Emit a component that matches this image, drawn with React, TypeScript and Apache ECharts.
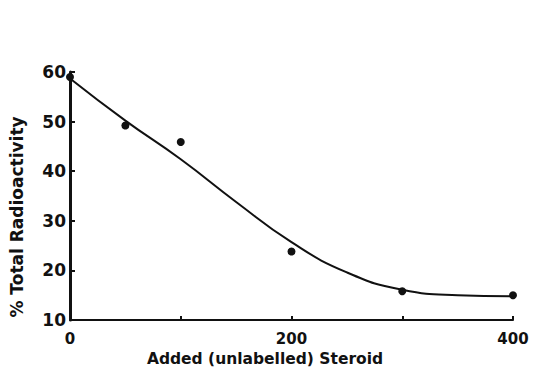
import React, { useEffect, useRef } from "react";
import * as echarts from "echarts";

const pointX = [0, 50, 100, 200, 300, 400];
const pointY = [59.0, 49.2, 45.9, 23.8, 15.8, 15.0];

const curveX = [0, 50, 100, 150, 200, 250, 300, 350, 400];
const curveY = [58.7, 50.2, 42.4, 33.8, 25.7, 19.6, 16.1, 15.0, 14.8];

const yTicks = [10, 20, 30, 40, 50, 60];
const xLabels = [0, 200, 400];

export default function App() {
  const ref = useRef<HTMLDivElement>(null);
  useEffect(() => {
    const chart = echarts.init(ref.current!, null, { renderer: "svg" });
    const font = "'DejaVu Sans', sans-serif";
    chart.setOption({
      animation: false,
      backgroundColor: "#ffffff",
      grid: { left: 70, right: 20, top: 72, bottom: 47 },
      graphic: [
        {
          type: "text",
          x: 265,
          y: 359,
          style: {
            text: "Added (unlabelled) Steroid",
            fontFamily: font,
            fontWeight: "bold",
            fontSize: 15.5,
            fill: "#111",
            align: "center",
            verticalAlign: "middle",
          },
        },
        {
          type: "text",
          x: 17,
          y: 217,
          rotation: Math.PI / 2,
          style: {
            text: "% Total Radioactivity",
            fontFamily: font,
            fontWeight: "bold",
            fontSize: 17,
            fill: "#111",
            align: "center",
            verticalAlign: "middle",
          },
        },
      ],
      xAxis: {
        type: "value",
        min: 0,
        max: 400,
        interval: 100,
        axisLine: { show: true, lineStyle: { color: "#111", width: 2 } },
        axisTick: { show: true, inside: true, length: 4, lineStyle: { color: "#111", width: 2 } },
        axisLabel: {
          margin: 11,
          fontFamily: font,
          fontWeight: "bold",
          fontSize: 15,
          color: "#111",
          formatter: (v: number) => (xLabels.includes(v) ? String(v) : ""),
        },
        splitLine: { show: false },
      },
      yAxis: {
        type: "value",
        min: yTicks[0],
        max: yTicks[yTicks.length - 1],
        interval: 10,
        axisLine: { show: true, lineStyle: { color: "#111", width: 3 } },
        axisTick: { show: true, inside: true, length: 5, lineStyle: { color: "#111", width: 2 } },
        axisLabel: {
          margin: 4,
          fontFamily: font,
          fontWeight: "bold",
          fontSize: 17,
          color: "#111",
        },
        splitLine: { show: false },
      },
      series: [
        {
          type: "line",
          data: curveX.map((x, i) => [x, curveY[i]]),
          smooth: 0.5,
          showSymbol: false,
          lineStyle: { color: "#111", width: 2 },
          z: 2,
        },
        {
          type: "scatter",
          data: pointX.map((x, i) => [x, pointY[i]]),
          symbol: "circle",
          symbolSize: 8,
          itemStyle: { color: "#111", opacity: 1 },
          z: 3,
        },
      ],
    });
    return () => chart.dispose();
  }, []);
  return <div ref={ref} style={{ width: 533, height: 367, position: "absolute", left: 0, top: 0 }} />;
}
